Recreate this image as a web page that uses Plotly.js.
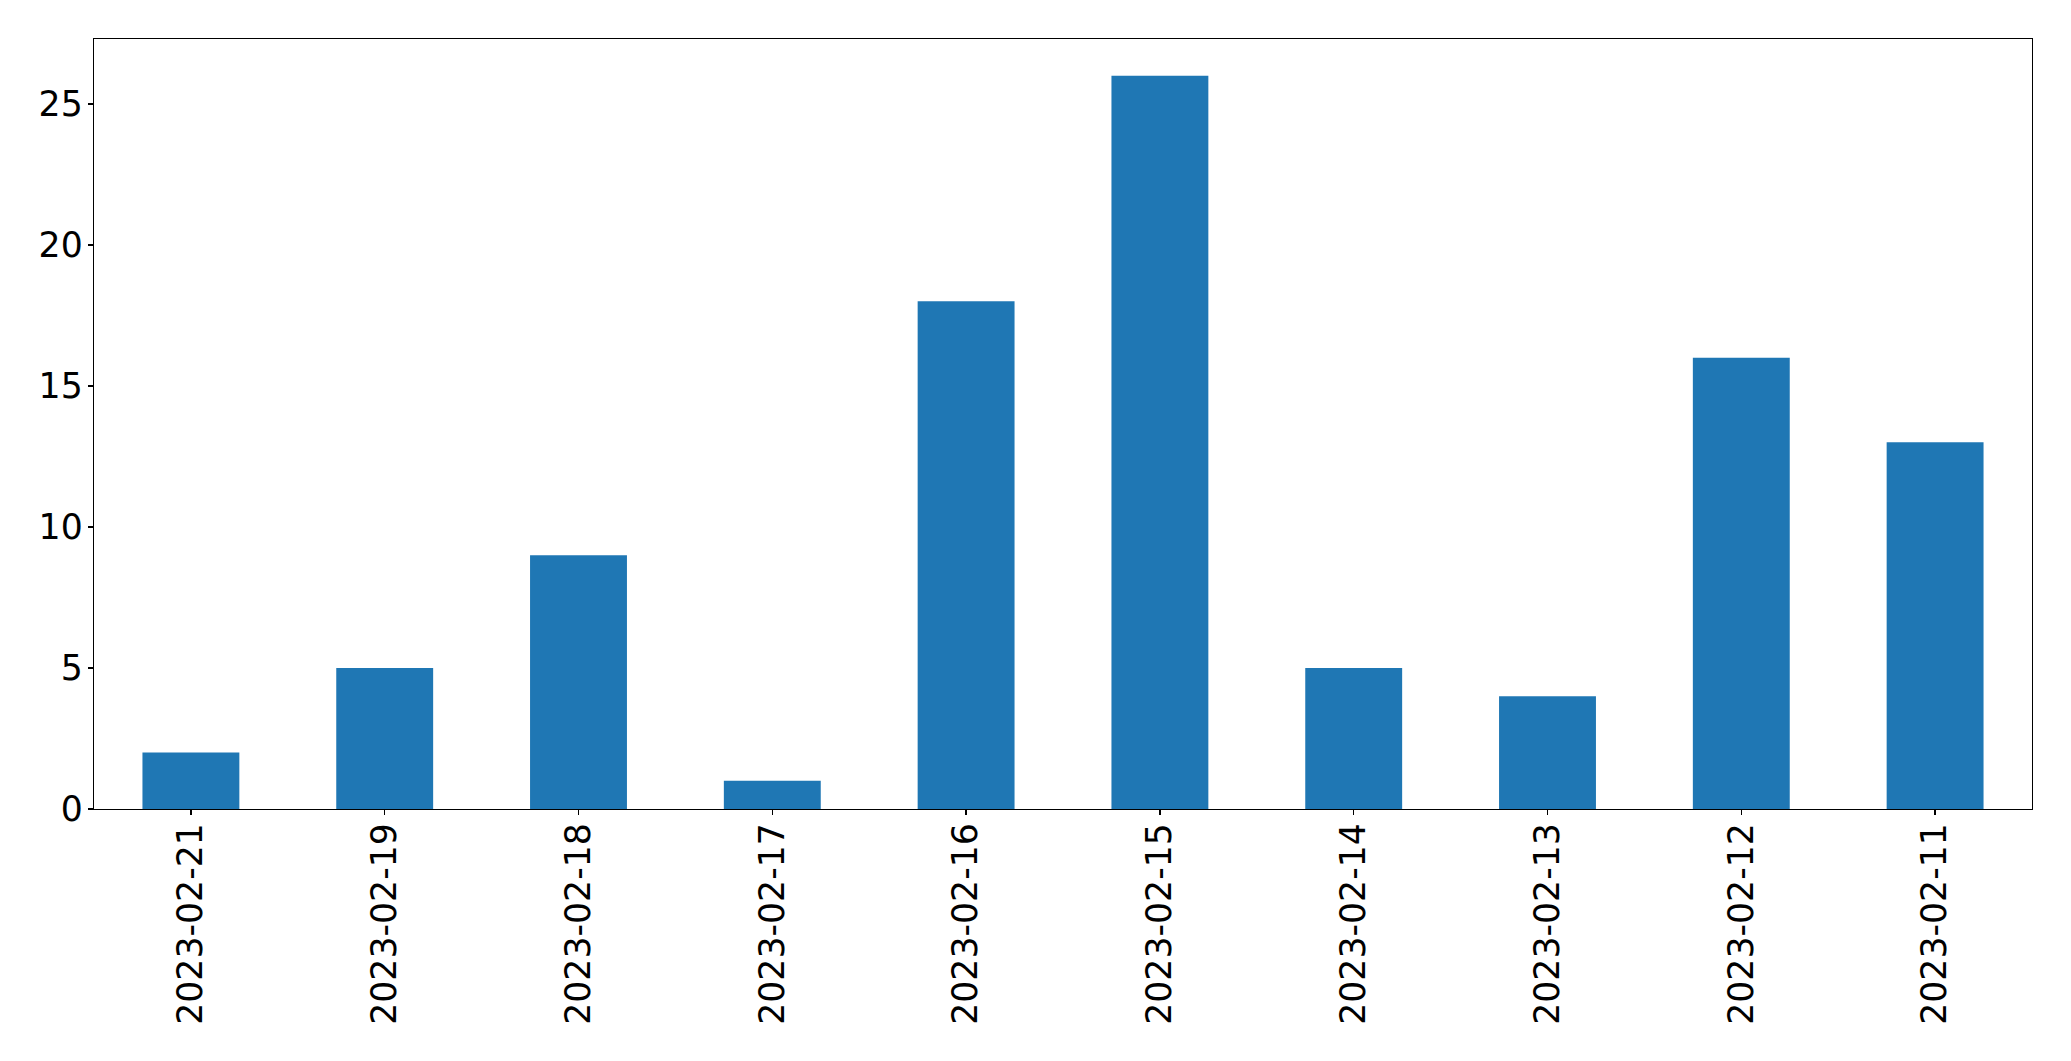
<!DOCTYPE html>
<html>
<head>
<meta charset="utf-8">
<script src="https://cdn.plot.ly/plotly-3.0.1.min.js"></script>
<style>html,body{margin:0;padding:0;background:#fff;}#chart{width:2071px;height:1061px;}</style>
</head>
<body>
<div id="chart"></div>
<script>
const dates = ["2023-02-21","2023-02-19","2023-02-18","2023-02-17","2023-02-16","2023-02-15","2023-02-14","2023-02-13","2023-02-12","2023-02-11"];
const counts = [2,5,9,1,18,26,5,4,16,13];
const yTicks = [0,5,10,15,20,25];

const trace = {
  type: 'bar',
  x: dates,
  y: counts,
  width: 0.5,
  marker: {color: '#1f77b4', line: {width: 0}},
  hoverinfo: 'x+y'
};

const axisCommon = {
  showline: true,
  mirror: true,
  linecolor: '#000',
  linewidth: 1.3,
  ticks: 'outside',
  ticklen: 5,
  tickwidth: 1.3,
  tickcolor: '#000',
  showgrid: false,
  zeroline: false,
  tickfont: {family: 'DejaVu Sans', size: 34.7, color: '#000'}
};

const layout = {
  width: 2071,
  height: 1061,
  margin: {l: 94, r: 39, t: 39, b: 252, pad: 0},
  paper_bgcolor: '#fff',
  plot_bgcolor: '#fff',
  showlegend: false,
  font: {family: 'DejaVu Sans', color: '#000'},
  xaxis: Object.assign({}, axisCommon, {
    type: 'category',
    categoryorder: 'array',
    categoryarray: dates,
    range: [-0.5, dates.length - 0.5],
    tickangle: -90,
    ticklabelstandoff: -6
  }),
  yaxis: Object.assign({}, axisCommon, {
    range: [0, 27.3],
    tickvals: yTicks,
    ticktext: yTicks.map(String),
    ticklabelstandoff: -2
  })
};

Plotly.newPlot('chart', [trace], layout, {displayModeBar: false, staticPlot: true});
</script>
</body>
</html>
